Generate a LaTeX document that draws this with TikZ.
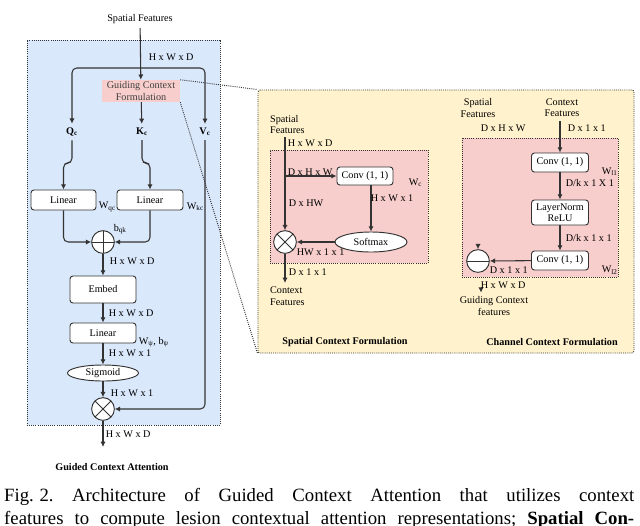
\documentclass[tikz,border=0pt]{standalone}
\usepackage{fontspec}
\setmainfont{Liberation Serif}
\usetikzlibrary{shapes.geometric, arrows.meta, calc}

\definecolor{panelblue}{HTML}{DAE8FC}
\definecolor{panelyellow}{HTML}{FFF2CC}
\definecolor{panelpink}{HTML}{F8CECC}
\definecolor{linegray}{HTML}{333333}

\tikzset{
	conn/.style={draw=linegray, line width=0.9pt, -{Latex[length=4.5pt,width=4.5pt]}, rounded corners=4pt},
	blk/.style={draw=linegray, line width=0.8pt, fill=white, rounded corners=2.5pt, inner sep=1pt, align=center},
	panel/.style={draw=linegray, densely dotted, line width=0.8pt},
	opnode/.style={circle, draw=linegray, line width=0.8pt, fill=white, minimum size=0.68cm, inner sep=0pt},
	otimesop/.style={opnode, path picture={\draw[linegray, line width=0.8pt] (path picture bounding box.north west) -- (path picture bounding box.south east) (path picture bounding box.north east) -- (path picture bounding box.south west);}},
	oplusop/.style={opnode, path picture={\draw[linegray, line width=0.8pt] (path picture bounding box.north) -- (path picture bounding box.south) (path picture bounding box.west) -- (path picture bounding box.east);}},
	ominusop/.style={opnode, path picture={\draw[linegray, line width=0.8pt] (path picture bounding box.west) -- (path picture bounding box.east);}},
	oval/.style={ellipse, draw=linegray, line width=0.8pt, fill=white, inner sep=0pt},
	lbl/.style={anchor=west, inner sep=0.5pt},
	ttl/.style={font=\fontsize{8.7}{10}\selectfont\bfseries},
}

\begin{document}
\begin{tikzpicture}[x=0.03cm, y=-0.03cm, font=\fontsize{8.7}{9.6}\selectfont]
	\useasboundingbox (0,0) rectangle (640,525);
	\clip (0,0) rectangle (640,525);
	
	\node[panel, fill=panelblue, minimum width=5.79cm, minimum height=11.55cm] (gca) at (123.5,232.5) {};
	\node[panel, fill=panelyellow, rounded corners=2pt, minimum width=11.28cm, minimum height=7.89cm] (gcfp) at (446,221.5) {};
	\node[panel, fill=panelpink, minimum width=4.74cm, minimum height=3.39cm] (scfp) at (349,206.5) {};
	\node[panel, fill=panelpink, minimum width=4.68cm, minimum height=4.17cm] (ccfp) at (540,207.5) {};
	
	% guided context attention
	\node (sf) at (140,19) {Spatial Features};
	\coordinate (split) at (140,68);
	\node[fill=panelpink, text=black!75, align=center, inner sep=1pt, minimum width=2.34cm, minimum height=0.66cm] (gcf) at (141,91) {Guiding Context\\Formulation};
	\node (qc) at (72,132) {\textbf{Q\textsubscript{c}}};
	\node (kc) at (142,132) {\textbf{K\textsubscript{c}}};
	\node (vc) at (205,132) {\textbf{V\textsubscript{c}}};
	\node[blk, minimum width=1.95cm, minimum height=0.6cm] (linq) at (63.5,200) {Linear};
	\node[blk, minimum width=1.98cm, minimum height=0.6cm] (link) at (150,200) {Linear};
	\node[oplusop] (plus) at (103,242) {};
	\node[blk, minimum width=1.98cm, minimum height=0.81cm] (embed) at (103,289.5) {Embed};
	\node[blk, minimum width=1.98cm, minimum height=0.6cm] (linpsi) at (103,333) {Linear};
	\node[oval, minimum width=2.13cm, minimum height=0.48cm] (sig) at (103,373) {Sigmoid};
	\node[otimesop] (mul) at (103,409) {};
	\coordinate (out) at (103,447);
	\node[ttl] (gcatitle) at (112,467) {Guided Context Attention};
	
	\draw[conn] (sf) -- (gcf);
	\draw[conn] (split) -| (qc);
	\draw[conn] (split) -| (vc);
	\draw[conn] (gcf) -- (kc);
	\draw[conn] (qc) -- (72,163) -| (linq);
	\draw[conn] (kc) -- (142,163) -| (link);
	\draw[conn] (linq) |- (plus);
	\draw[conn] (link) |- (plus);
	\draw[conn] (plus) -- (embed);
	\draw[conn] (embed) -- (linpsi);
	\draw[conn] (linpsi) -- (sig);
	\draw[conn] (sig) -- (mul);
	\draw[conn] (vc) |- (mul);
	\draw[conn] (mul) -- (out);
	
	\node[lbl] (d1) at (148,57) {H x W x D};
	\node[lbl] (wqc) at (98,207) {W\textsubscript{qc}};
	\node[lbl] (wkc) at (186,207) {W\textsubscript{kc}};
	\node[lbl] (bqk) at (113,229) {b\textsubscript{qk}};
	\node[lbl] (d2) at (109,261) {H x W x D};
	\node[lbl] (d3) at (108,313) {H x W x D};
	\node[lbl] (wpsi) at (138,342) {W\textsubscript{ψ}, b\textsubscript{ψ}};
	\node[lbl] (d4) at (108,353) {H x W x 1};
	\node[lbl] (d5) at (110,393) {H x W x 1};
	\node[lbl] (d6) at (105,434) {H x W x D};
	
	\draw[panel] (gcf.north east) -- (gcfp.north west);
	\draw[panel] (gcf.south east) -- (gcfp.south west);
	
	% spatial context formulation
	\node[align=left, anchor=north west] (sfs) at (266,111) {Spatial\\Features};
	\coordinate (sfsd) at (285,137);
	\coordinate (sbr) at (285,176);
	\node[blk, minimum width=1.68cm, minimum height=0.54cm] (sconv) at (365,176) {Conv (1, 1)};
	\node[oval, minimum width=2.16cm, minimum height=0.6cm] (smax) at (371,242) {Softmax};
	\node[otimesop] (smul) at (285,242) {};
	\node[align=left, anchor=north west] (ctxf) at (266,283) {Context\\Features};
	\node[ttl] (scftitle) at (345,342) {Spatial Context Formulation};
	
	\draw[conn] (sfsd) -- (smul);
	\draw[conn] (sbr) -- (sconv);
	\draw[conn] (sconv.south -| smax) -- (smax);
	\draw[conn] (smax) -- (smul);
	\draw[conn] (smul) -- (smul |- ctxf.north);
	
	\node[lbl] (s1) at (287,143) {H x W x D};
	\node[lbl, anchor=south west] (s2) at (287,176) {D x H x W};
	\node[lbl] (wc) at (408,183) {W\textsubscript{c}};
	\node[lbl] (s3) at (288,203) {D x HW};
	\node[lbl] (s4) at (370,198) {H x W x 1};
	\node[lbl] (s5) at (296,252) {HW x 1 x 1};
	\node[lbl] (s6) at (288,272) {D x 1 x 1};
	
	% channel context formulation
	\node[align=center] (csf) at (478,108) {Spatial\\Features};
	\node[align=center] (cctx) at (562,108) {Context\\Features};
	\node[blk, minimum width=1.71cm, minimum height=0.57cm] (cconv1) at (560,162.5) {Conv (1, 1)};
	\node[blk, minimum width=1.71cm, minimum height=0.75cm] (lnorm) at (560,212.5) {LayerNorm\\ReLU};
	\node[blk, minimum width=1.71cm, minimum height=0.57cm] (cconv2) at (560,260.5) {Conv (1, 1)};
	\node[ominusop] (cadd) at (478,261) {};
	\coordinate (caddin) at (478,244);
	\node[align=center] (guide) at (494,306) {Guiding Context\\features};
	\coordinate (gstub) at (481,289);
	\node[ttl] (ccftitle) at (552,342) {Channel Context Formulation};
	
	\draw[conn] (cctx.south -| cconv1) -- (cconv1);
	\draw[conn] (cconv1) -- (lnorm);
	\draw[conn] (lnorm) -- (cconv2);
	\draw[conn] (cconv2) -- (cadd);
	\draw[conn] (caddin) -- (cadd);
	\draw[conn] (gstub) -- (gstub |- guide.north);
	
	\node[lbl] (c1) at (480,128) {D x H x W};
	\node[lbl] (c2) at (567,128) {D x 1 x 1};
	\node[lbl] (wl1) at (601,172) {W\textsubscript{l1}};
	\node[lbl] (c3) at (565,183) {D/k x 1 X 1};
	\node[lbl] (c4) at (565,238) {D/k x 1 x 1};
	\node[lbl] (wl2) at (601,270) {W\textsubscript{l2}};
	\node[lbl] (c5) at (489,270) {D x 1 x 1};
	\node[lbl] (c6) at (480,285) {H x W x D};
	
	\node[anchor=north west, text width=18.9cm, align=justify, inner sep=0pt, font=\fontsize{16}{19.6}\selectfont] (capt) at (4,488) {{\frenchspacing\parfillskip=0pt Fig.\kern0.3em2. Architecture of Guided Context Attention that utilizes context\linebreak features to compute lesion contextual attention representations; \textbf{Spatial Con-}\par}};
\end{tikzpicture}
\end{document}
